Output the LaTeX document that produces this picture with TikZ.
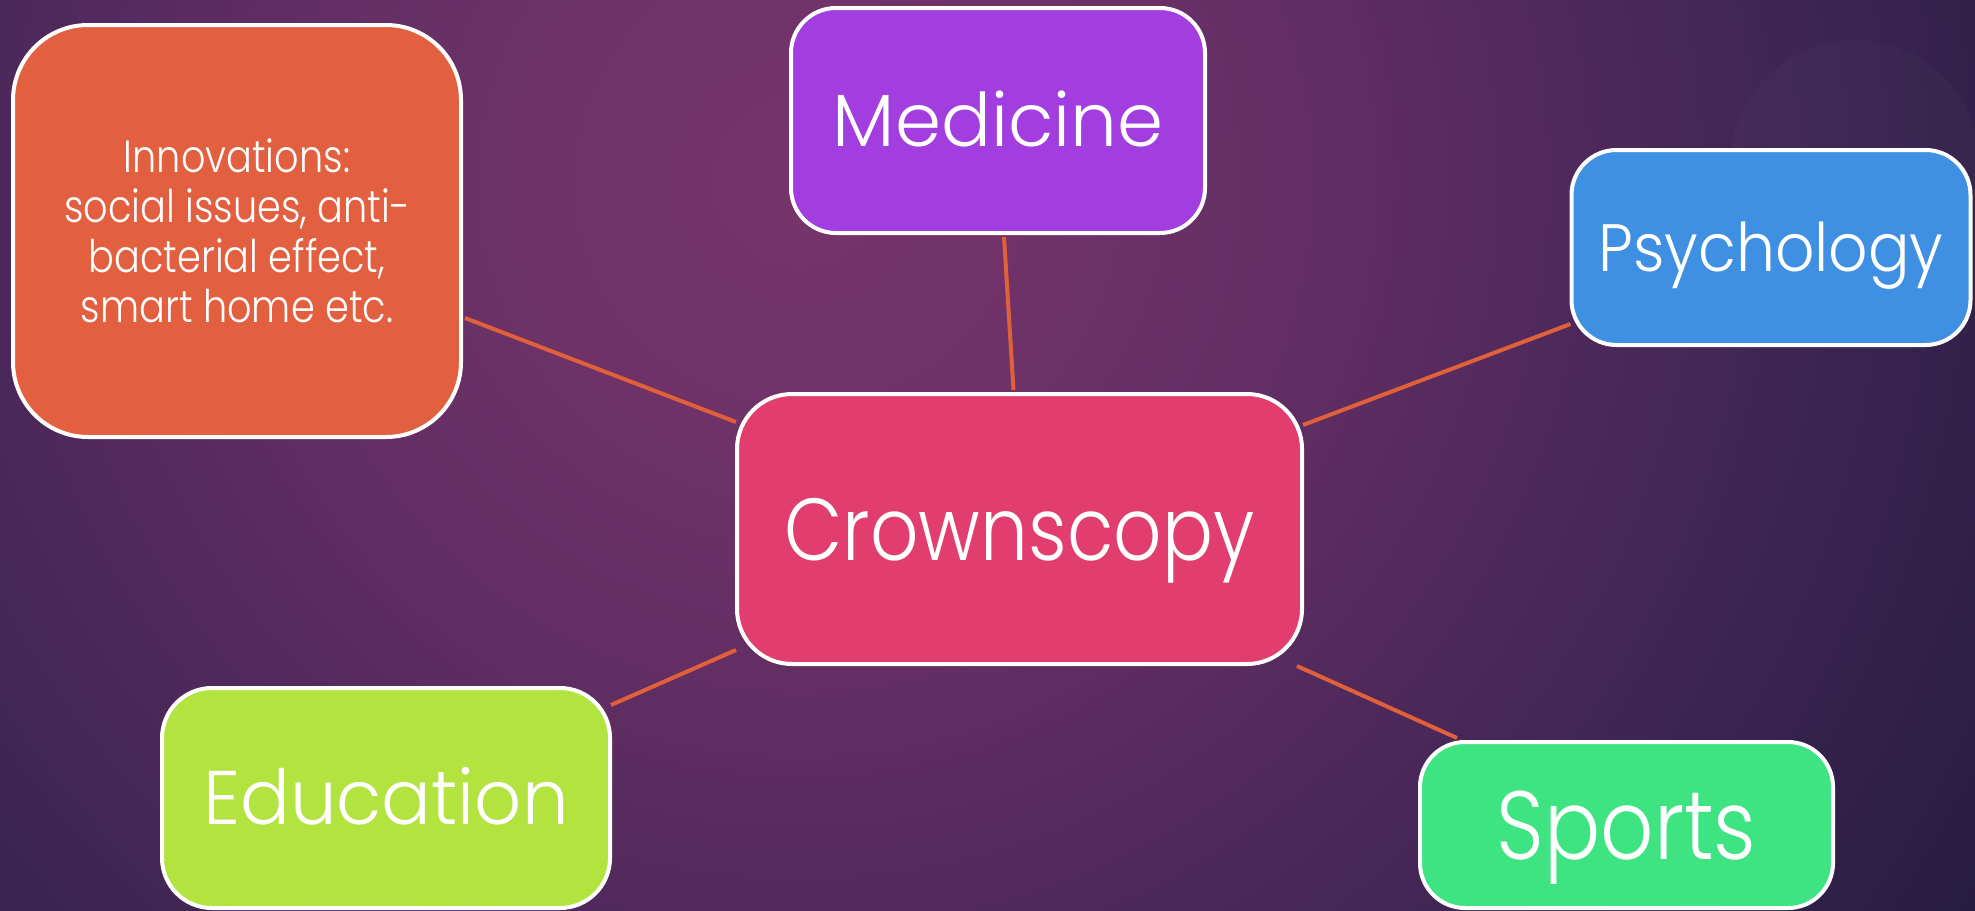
\documentclass[tikz,border=0pt]{standalone}
\usepackage{fontspec}
\setmainfont{Poppins Light}
\newfontfamily\fsM{Poppins Light}
\newfontfamily\fsA{Poppins Light}[FakeStretch=0.86]
\newfontfamily\fsB{Poppins Light}[FakeStretch=0.92]
\newfontfamily\fsC{Poppins Light}[FakeStretch=0.97]
\newfontfamily\fsD{Poppins Light}[FakeStretch=0.85]
\usetikzlibrary{calc}
\definecolor{bgA}{HTML}{76346A}
\definecolor{bgB}{HTML}{6E3268}
\definecolor{bgC}{HTML}{5F2D62}
\definecolor{bgD}{HTML}{4C285A}
\definecolor{bgE}{HTML}{3A2450}
\definecolor{bgF}{HTML}{261C40}
\definecolor{cInn}{HTML}{E2603F}
\definecolor{cMed}{HTML}{A23DE0}
\definecolor{cPsy}{HTML}{3F8FE2}
\definecolor{cCrown}{HTML}{E13D6E}
\definecolor{cEdu}{HTML}{B2E33F}
\definecolor{cSpo}{HTML}{3EE382}
\definecolor{cLine}{HTML}{E0603A}
\pgfdeclareradialshading{bgshade}{\pgfpoint{0bp}{0bp}}{color(0bp)=(bgA); color(5bp)=(bgB); color(10bp)=(bgC); color(14.5bp)=(bgD); color(19bp)=(bgE); color(25bp)=(bgF); color(50bp)=(bgF)}
\begin{document}
\begin{tikzpicture}[x=1pt,y=-1pt,
  box/.style={draw=white, line width=4pt, rounded corners=#1, text=white, inner sep=0pt, text depth=0pt},
  box/.default=45pt,
  link/.style={draw=cLine, line width=4pt}]
\useasboundingbox (0,0) rectangle (1975,910);
\begin{scope}
\clip (0,0) rectangle (1975,910);
\shade[shading=bgshade] (800,180) circle[radius=1400pt];
\fill[white, opacity=0.02] (1855,165) circle[radius=125pt];
\end{scope}

\node[box=75pt, fill=cInn, minimum width=448pt, minimum height=412pt, align=center,
  font=\fsD\fontsize{45}{50}\selectfont] (inn) at (237,231)
  {Innovations:\\social issues, anti-\\bacterial effect,\\smart home etc.};
\node[box=45pt, fill=cMed, minimum width=414pt, minimum height=225pt,
  font=\fsM\fontsize{74}{80}\selectfont, text height=52pt] (med) at (998,120.5) {Medicine};
\node[box=45pt, fill=cPsy, minimum width=399pt, minimum height=195pt,
  font=\fsB\fontsize{67}{72}\selectfont, text height=47pt] (psy) at (1771,247.5) {Psychology};
\node[box=55pt, fill=cCrown, minimum width=565pt, minimum height=270pt,
  font=\fsA\fontsize{88}{95}\selectfont, text height=62pt] (crown) at (1019.5,529) {Crownscopy};
\node[box=50pt, fill=cEdu, minimum width=448pt, minimum height=220pt,
  font=\fsC\fontsize{76}{82}\selectfont, text height=53pt] (edu) at (386,798) {Education};
\node[box=45pt, fill=cSpo, minimum width=413pt, minimum height=166pt,
  font=\fsA\fontsize{97}{104}\selectfont, text height=68pt] (spo) at (1626.5,825) {Sports};

\draw[link] ($(inn.east)+(2,87)$) -- ($(crown.west)+(1,-107)$);
\draw[link] ($(med.south)+(6,2)$) -- ($(crown.north)+(-6,-2)$);
\draw[link] ($(psy.west)+(1,76.5)$) -- ($(crown.east)+(-1,-104)$);
\draw[link] ($(edu.east)+(-1,-93)$) -- ($(crown.west)+(1,121)$);
\draw[link] ($(spo.north)+(-169.5,-2)$) -- ($(crown.south east)+(-7,0)$);
\end{tikzpicture}
\end{document}
